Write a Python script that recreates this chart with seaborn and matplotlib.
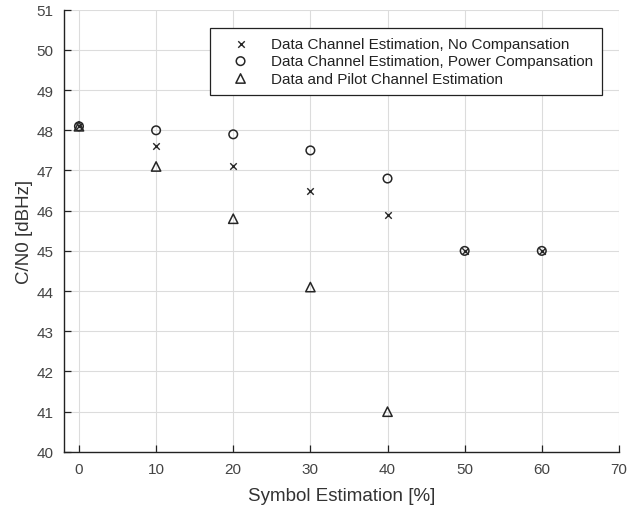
import numpy as np
import matplotlib
matplotlib.use("Agg")
import matplotlib.pyplot as plt
import seaborn as sns

# symbol estimation [%]
sym_est = [0, 10, 20, 30, 40, 50, 60]
sym_est_pilot = [0, 10, 20, 30, 40]

# C/N0 [dBHz]
cn0_no_comp = [48.1, 47.6, 47.1, 46.5, 45.9, 45.0, 45.0]
cn0_power_comp = [48.1, 48.0, 47.9, 47.5, 46.8, 45.0, 45.0]
cn0_pilot = [48.1, 47.1, 45.8, 44.1, 41.0]

labels = [
    "Data Channel Estimation, No Compansation",
    "Data Channel Estimation, Power Compansation",
    "Data and Pilot Channel Estimation",
]

sns.set_style("whitegrid", {"xtick.direction": "in", "ytick.direction": "in",
                            "xtick.bottom": True, "ytick.left": True})
plt.rcParams["font.family"] = ["Liberation Sans", "DejaVu Sans"]

fig = plt.figure(figsize=(6.29, 5.10), dpi=100)
ax = fig.add_axes([0.101, 0.112, 0.883, 0.867])

ink = "#262626"
sns.scatterplot(x=sym_est, y=cn0_no_comp, marker="x", color=ink, s=22,
                linewidth=1.0, label=labels[0], ax=ax, zorder=3)
sns.scatterplot(x=sym_est, y=cn0_power_comp, marker="o", s=38,
                facecolor="none", edgecolor=ink, linewidth=1.1,
                label=labels[1], ax=ax, zorder=3)
sns.scatterplot(x=sym_est_pilot, y=cn0_pilot, marker="^", s=45,
                facecolor="none", edgecolor=ink, linewidth=1.1,
                label=labels[2], ax=ax, zorder=3)

ax.set_xlim(-2, 70)
ax.set_ylim(40, 51)
ax.set_xticks(np.arange(0, 71, 10))
ax.set_yticks(np.arange(40, 52, 1))

ax.grid(True, color="#dcdcdc", linewidth=0.8)
for side in ["top", "right"]:
    ax.spines[side].set_visible(False)
for side in ["left", "bottom"]:
    ax.spines[side].set_visible(True)
    ax.spines[side].set_color("#222222")
    ax.spines[side].set_linewidth(1.0)

ax.tick_params(axis="both", which="major", direction="in", length=5, width=0.9,
               color="#222222", labelsize=11, labelcolor="#444444",
               left=True, bottom=True, pad=7)
ax.set_xlabel("Symbol Estimation [%]", fontsize=13.5, color="#333333", labelpad=8)
ax.set_ylabel("C/N0 [dBHz]", fontsize=13.5, color="#333333", labelpad=3)

leg = ax.legend(loc="upper left", bbox_to_anchor=(0.2637, 0.9595),
                fontsize=11, frameon=True, fancybox=False,
                handletextpad=0.6, handlelength=2.8, borderpad=0.6,
                labelspacing=0.22, borderaxespad=0)
leg.get_frame().set_edgecolor("#222222")
leg.get_frame().set_linewidth(0.9)
leg.get_frame().set_alpha(1)
for t in leg.get_texts():
    t.set_color("#222222")

fig.savefig("out.png", dpi=100)
